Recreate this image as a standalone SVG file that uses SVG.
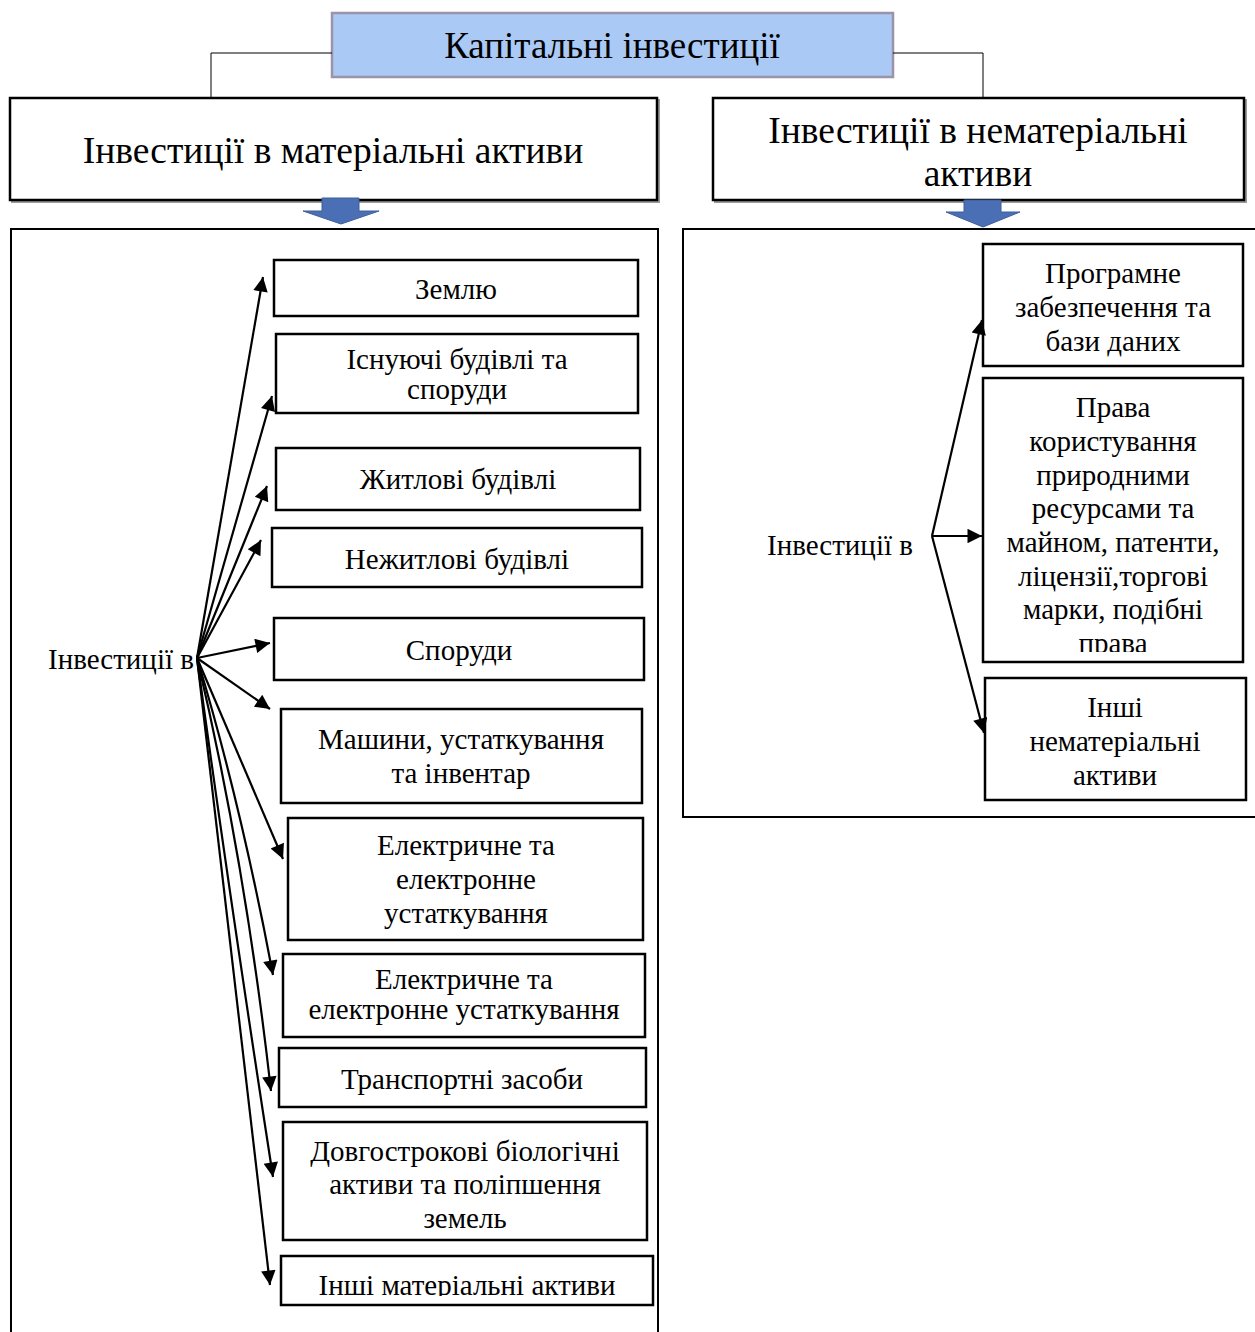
<svg xmlns="http://www.w3.org/2000/svg" width="1255" height="1332" viewBox="0 0 1255 1332">
  <style>
    .t { font-family: "Liberation Serif", "Times New Roman", serif; fill: #000; }
    .box { fill: #fff; stroke: #000; stroke-width: 2.5; }
    .hdr { fill: #fff; stroke: #000; stroke-width: 2.5; }
    .shadow { fill: none; stroke: #9a9a9a; stroke-width: 2; }
    .wrap { fill: none; stroke: #000; stroke-width: 2; }
    .con { fill: none; stroke: #000; stroke-width: 2.2; }
    .thin { fill: none; stroke: #000; stroke-width: 1; }
    .big { font-size: 37.5px; text-anchor: middle; }
    .mid { font-size: 29px; text-anchor: middle; }
    .lbl { font-size: 29px; }
    .block { fill: #4a6fb5; stroke: #3d5e9e; stroke-width: 1; }
  </style>
  <defs>
    <marker id="ah" viewBox="0 0 10 10" refX="10" refY="5" markerWidth="9" markerHeight="6.6" markerUnits="strokeWidth" orient="auto">
      <path d="M0,0 L10,5 L0,10 Z" fill="#000"/>
    </marker>
    <clipPath id="clipOther"><rect x="281" y="1256" width="372" height="40"/></clipPath>
    <clipPath id="clipRights"><rect x="983" y="378" width="260" height="274"/></clipPath>
  </defs>

  <rect width="1255" height="1332" fill="#fff"/>

  <!-- outer frames for the two branches -->
  <g id="frame-tangible">
    <path class="wrap" d="M11,1332 V229 H658 V1332"/>
  </g>
  <g id="frame-intangible">
    <path class="wrap" d="M1256,229 H683 V817 H1256"/>
  </g>

  <!-- root node -->
  <g id="root">
    <rect x="332" y="13" width="561" height="64" fill="#abc9f5" stroke="#9b93a8" stroke-width="2.5"/>
    <text class="t" x="612" y="58" font-size="37" text-anchor="middle">Капітальні інвестиції</text>
  </g>

  <!-- category headers -->
  <g id="hdr-tangible">
    <rect class="shadow" x="12" y="100" width="647" height="102"/>
    <rect class="hdr" x="10" y="98" width="647" height="102"/>
    <text class="t big" x="333" y="163">Інвестиції в матеріальні активи</text>
  </g>
  <g id="hdr-intangible">
    <rect class="shadow" x="715" y="100" width="531" height="102"/>
    <rect class="hdr" x="713" y="98" width="531" height="102"/>
    <text class="t big" x="978" y="143">Інвестиції в нематеріальні</text>
    <text class="t big" x="978" y="186">активи</text>
  </g>

  <!-- block arrows from headers into frames -->
  <g id="down-tangible">
    <path class="block" d="M322,198 H359 V211 H379 L341,224 L303,211 H322 Z"/>
  </g>
  <g id="down-intangible">
    <path class="block" d="M964,200 H1001 V212 H1020 L983,227 L946,212 H964 Z"/>
  </g>

  <!-- source labels -->
  <g id="src-tangible">
    <text class="t lbl" x="48" y="669">Інвестиції в</text>
  </g>
  <g id="src-intangible">
    <text class="t lbl" x="767" y="555">Інвестиції в</text>
  </g>

  <!-- tangible asset items -->
  <g id="item-land">
    <rect class="box" x="274" y="260" width="364" height="56"/>
    <text class="t mid" x="456" y="299">Землю</text>
  </g>
  <g id="item-existing">
    <rect class="box" x="276" y="334" width="362" height="79"/>
    <text class="t mid" x="457" y="369">Існуючі будівлі та</text>
    <text class="t mid" x="457" y="399">споруди</text>
  </g>
  <g id="item-residential">
    <rect class="box" x="276" y="448" width="364" height="62"/>
    <text class="t mid" x="458" y="489">Житлові будівлі</text>
  </g>
  <g id="item-nonresidential">
    <rect class="box" x="272" y="528" width="370" height="59"/>
    <text class="t mid" x="457" y="569">Нежитлові будівлі</text>
  </g>
  <g id="item-structures">
    <rect class="box" x="274" y="618" width="370" height="62"/>
    <text class="t mid" x="459" y="660">Споруди</text>
  </g>
  <g id="item-machinery">
    <rect class="box" x="281" y="709" width="361" height="94"/>
    <text class="t mid" x="461" y="749">Машини, устаткування</text>
    <text class="t mid" x="461" y="783">та інвентар</text>
  </g>
  <g id="item-electric-a">
    <rect class="box" x="288" y="818" width="355" height="122"/>
    <text class="t mid" x="466" y="855">Електричне та</text>
    <text class="t mid" x="466" y="889">електронне</text>
    <text class="t mid" x="466" y="923">устаткування</text>
  </g>
  <g id="item-electric-b">
    <rect class="box" x="283" y="954" width="362" height="83"/>
    <text class="t mid" x="464" y="989">Електричне та</text>
    <text class="t mid" x="464" y="1019">електронне устаткування</text>
  </g>
  <g id="item-vehicles">
    <rect class="box" x="279" y="1048" width="367" height="59"/>
    <text class="t mid" x="462" y="1089">Транспортні засоби</text>
  </g>
  <g id="item-biological">
    <rect class="box" x="283" y="1122" width="364" height="118"/>
    <text class="t mid" x="465" y="1161">Довгострокові біологічні</text>
    <text class="t mid" x="465" y="1194">активи та поліпшення</text>
    <text class="t mid" x="465" y="1228">земель</text>
  </g>
  <g id="item-other-tangible">
    <rect class="box" x="281" y="1256" width="372" height="49"/>
    <text class="t mid" x="467" y="1295" clip-path="url(#clipOther)">Інші матеріальні активи</text>
  </g>

  <!-- intangible asset items -->
  <g id="item-software">
    <rect class="box" x="983" y="244" width="260" height="122"/>
    <text class="t mid" x="1113" y="283">Програмне</text>
    <text class="t mid" x="1113" y="317">забезпечення та</text>
    <text class="t mid" x="1113" y="351">бази даних</text>
  </g>
  <g id="item-rights">
    <rect class="box" x="983" y="378" width="260" height="284"/>
    <g clip-path="url(#clipRights)">
      <text class="t mid" x="1113" y="417">Права</text>
      <text class="t mid" x="1113" y="451">користування</text>
      <text class="t mid" x="1113" y="485">природними</text>
      <text class="t mid" x="1113" y="518">ресурсами та</text>
      <text class="t mid" x="1113" y="552">майном, патенти,</text>
      <text class="t mid" x="1113" y="586">ліцензії,торгові</text>
      <text class="t mid" x="1113" y="619">марки, подібні</text>
      <text class="t mid" x="1113" y="653">права</text>
    </g>
  </g>
  <g id="item-other-intangible">
    <rect class="box" x="985" y="678" width="261" height="122"/>
    <text class="t mid" x="1115" y="717">Інші</text>
    <text class="t mid" x="1115" y="751">нематеріальні</text>
    <text class="t mid" x="1115" y="785">активи</text>
  </g>

  <!-- connectors -->
  <g id="connectors">
    <path class="thin" d="M332,53 H211 V98"/>
    <path class="thin" d="M893,53 H983 V98"/>

    <g marker-end="url(#ah)">
      <line class="con" x1="197" y1="658" x2="263" y2="277"/>
      <line class="con" x1="197" y1="658" x2="272" y2="396"/>
      <line class="con" x1="197" y1="658" x2="267" y2="486"/>
      <line class="con" x1="197" y1="658" x2="261" y2="540"/>
      <line class="con" x1="197" y1="658" x2="270" y2="643"/>
      <line class="con" x1="197" y1="658" x2="270" y2="709"/>
      <line class="con" x1="197" y1="658" x2="283" y2="859"/>
      <path class="con" d="M197,658 Q240,800 273,975"/>
      <path class="con" d="M197,658 Q245,860 271,1091"/>
      <path class="con" d="M197,658 Q230,900 273,1177"/>
      <line class="con" x1="197" y1="658" x2="270" y2="1285"/>

      <line class="con" x1="932" y1="536" x2="982" y2="320"/>
      <line class="con" x1="932" y1="536" x2="982" y2="536"/>
      <line class="con" x1="932" y1="536" x2="984" y2="733"/>
    </g>
  </g>
</svg>
